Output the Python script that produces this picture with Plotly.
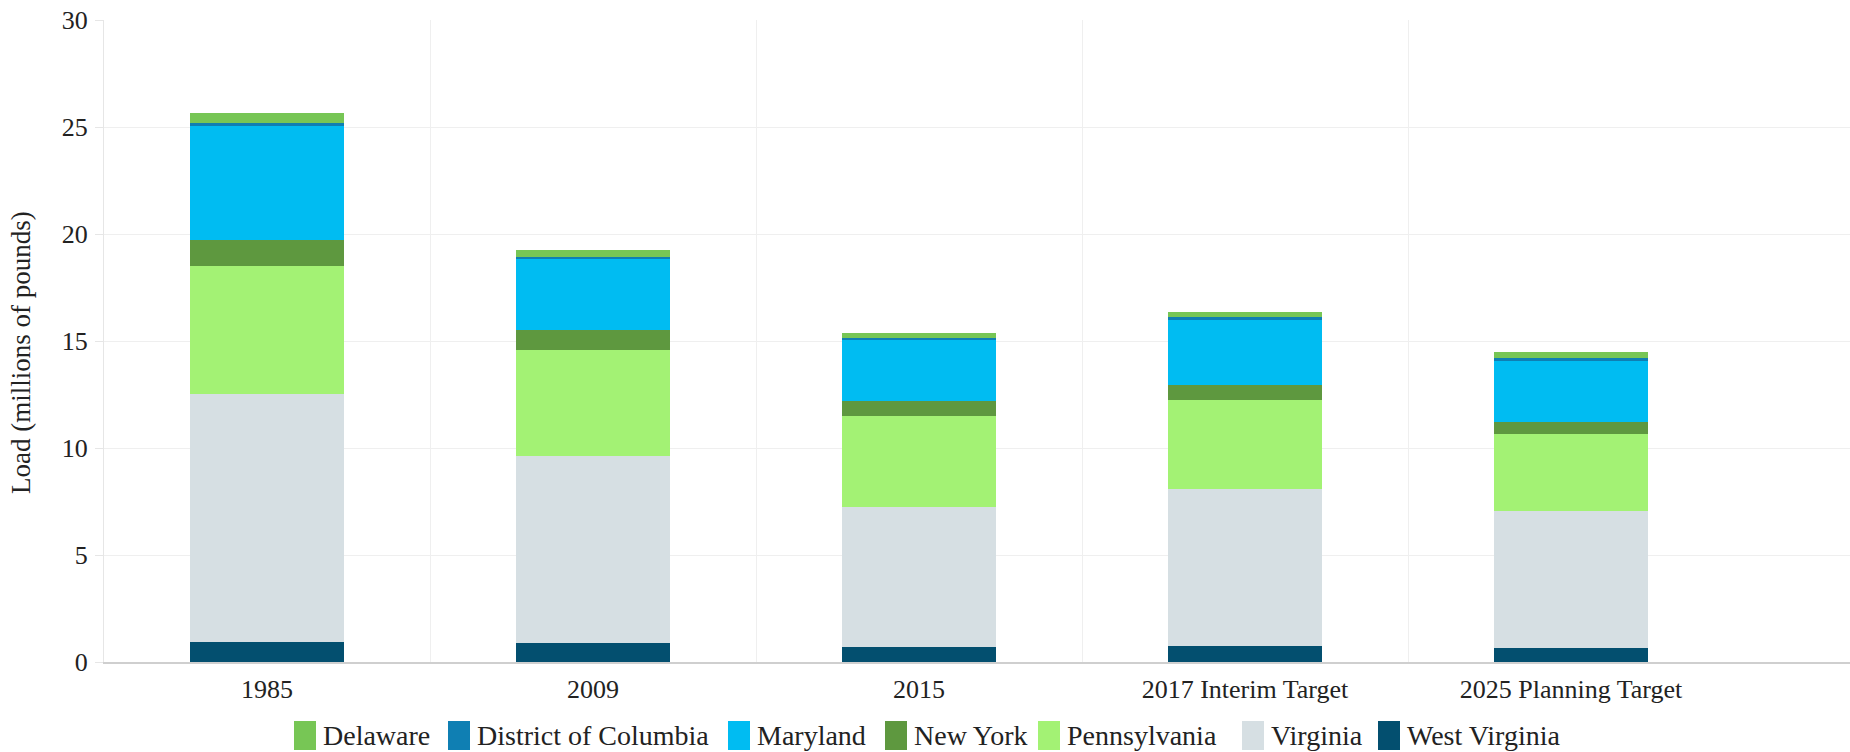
import plotly.graph_objects as go

# Load by jurisdiction (millions of pounds)
categories = ["1985", "2009", "2015", "2017 Interim Target", "2025 Planning Target"]

west_virginia = [0.92, 0.91, 0.68, 0.75, 0.64]
virginia = [11.60, 8.72, 6.58, 7.32, 6.43]
pennsylvania = [6.00, 4.95, 4.24, 4.17, 3.58]
new_york = [1.20, 0.93, 0.71, 0.70, 0.58]
maryland = [5.37, 3.33, 2.85, 3.06, 2.88]
district_of_columbia = [0.08, 0.07, 0.07, 0.10, 0.08]
delaware = [0.50, 0.34, 0.23, 0.27, 0.28]

# stacking order, bottom to top
series = [
    ("West Virginia", west_virginia, "#034f6f"),
    ("Virginia", virginia, "#d6dfe3"),
    ("Pennsylvania", pennsylvania, "#a3f274"),
    ("New York", new_york, "#5e983f"),
    ("Maryland", maryland, "#00bcf2"),
    ("District of Columbia", district_of_columbia, "#0f7fb3"),
    ("Delaware", delaware, "#77c655"),
]

# legend reading order, left to right
legend_order = ["Delaware", "District of Columbia", "Maryland", "New York",
                "Pennsylvania", "Virginia", "West Virginia"]

FONT = "Liberation Serif"
TEXT = "#222222"
W, H = 1850, 752
ML, MR, MT, MB = 104, 0, 20, 90
PW, PH = W - ML - MR, H - MT - MB
SLOT = 326.0  # pixel width of one category slot

positions = list(range(len(categories)))

fig = go.Figure()
for name, vals, color in series:
    fig.add_trace(go.Bar(
        name=name, x=positions, y=vals,
        marker=dict(color=color, line=dict(width=0)),
        showlegend=False,
        hovertemplate="%{text}<br>" + name + ": %{y}<extra></extra>",
        text=categories, textposition="none",
    ))

# legend: swatch left edges in pixels
legend_x = [294, 448, 728, 885, 1038, 1242, 1378]
colors = {n: c for n, _, c in series}
sw_w, sw_top, sw_bot = 22, 721, 750


def px(xp):
    return (xp - ML) / PW


def py(yp):
    return (H - MB - yp) / PH


shapes = []
annotations = []
for name, x0 in zip(legend_order, legend_x):
    shapes.append(dict(type="rect", xref="paper", yref="paper",
                       x0=px(x0), x1=px(x0 + sw_w), y0=py(sw_bot), y1=py(sw_top),
                       fillcolor=colors[name], line=dict(width=0)))
    annotations.append(dict(xref="paper", yref="paper", x=px(x0 + sw_w + 5),
                            y=py((sw_top + sw_bot) / 2), xanchor="left", yanchor="middle",
                            text=name, showarrow=False,
                            font=dict(family=FONT, size=28, color=TEXT)))

# y-axis title
annotations.append(dict(xref="paper", yref="paper", x=px(21), y=py(353),
                        xanchor="center", yanchor="middle", textangle=-90,
                        text="Load (millions of pounds)", showarrow=False,
                        font=dict(family=FONT, size=27, color=TEXT)))

fig.update_layout(
    width=W, height=H,
    margin=dict(l=ML, r=MR, t=MT, b=MB, pad=0),
    barmode="stack",
    bargap=0.525,
    plot_bgcolor="white", paper_bgcolor="white",
    font=dict(family=FONT, color=TEXT),
    shapes=shapes,
    annotations=annotations,
    showlegend=False,
    xaxis=dict(
        range=[-0.5, -0.5 + PW / SLOT],
        tickmode="array", tickvals=positions, ticktext=categories,
        showgrid=False,
        minor=dict(tickmode="array", tickvals=[p + 0.5 for p in positions[:-1]],
                   showgrid=True, gridcolor="#efefef", gridwidth=1, ticks=""),
        showline=True, linecolor="#cfcfcf", linewidth=1.5,
        ticks="", ticklabelstandoff=3,
        tickfont=dict(family=FONT, size=26, color=TEXT),
        zeroline=False,
    ),
    yaxis=dict(
        range=[0, 30], tick0=0, dtick=5,
        showgrid=True, gridcolor="#efefef", gridwidth=1,
        showline=True, linecolor="#e6e6e6", linewidth=1,
        ticks="outside", ticklen=8, tickcolor="#e6e6e6",
        ticklabelstandoff=2,
        tickfont=dict(family=FONT, size=26, color=TEXT),
        zeroline=False,
    ),
)

fig.write_html("out.html")
